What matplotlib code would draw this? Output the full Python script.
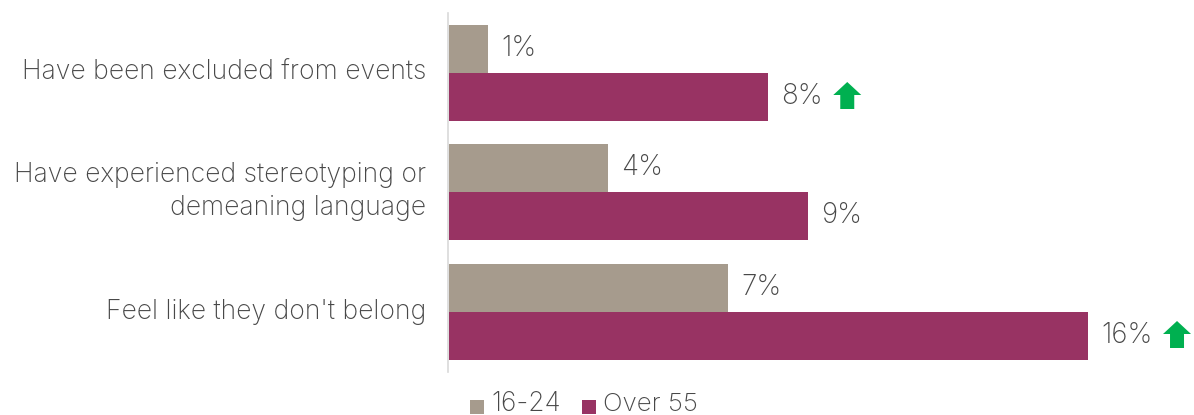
import matplotlib
matplotlib.use('Agg')
import matplotlib.pyplot as plt
from matplotlib.patches import FancyArrow, Rectangle

categories = ['Have been excluded from events',
              'Have experienced stereotyping or\ndemeaning language',
              "Feel like they don't belong"]
young = [1, 4, 7]
older = [8, 9, 16]
arrows_older = [True, False, True]
series_names = ['16-24', 'Over 55']

plt.rcParams['font.family'] = ['Inter', 'DejaVu Sans']
plt.rcParams['font.weight'] = 'light'

W, H = 1194, 415
fig = plt.figure(figsize=(W / 100, H / 100), dpi=100)
ax = fig.add_axes([0, 0, 1, 1])
ax.set_axis_off()

# pixel coordinates for the whole canvas, values are scaled to pixels below
ax.set_xlim(0, W)
ax.set_ylim(H, 0)

x0 = 448.5
per_pct = 39.97
grey = '#A69B8D'
plum = '#983363'
text_col = '#484848'

tops = [25, 144, 264]
bar_h = 48

ax.plot([447.5, 447.5], [13, 372], color='#D9D9D9', lw=1.2)

for i, cat in enumerate(categories):
    t = tops[i]
    ax.barh(t + bar_h / 2, young[i] * per_pct, height=bar_h, left=x0, color=grey)
    ax.barh(t + bar_h * 1.5, older[i] * per_pct, height=bar_h, left=x0, color=plum)
    ax.text(x0 + young[i] * per_pct + 13, t + bar_h / 2 - 1, f'{young[i]}%',
            fontsize=20, color=text_col, va='center')
    ax.text(x0 + older[i] * per_pct + 13, t + bar_h * 1.5 - 1, f'{older[i]}%',
            fontsize=20, color=text_col, va='center')
    ax.text(426, t + bar_h - 0.5, cat, fontsize=19.1, color=text_col, ha='right',
            va='center', linespacing=1.36)
    if arrows_older[i]:
        # the arrow sits just past the value label, so it depends on the label width
        gap = 79 if older[i] < 10 else 89
        arrow_x = x0 + older[i] * per_pct + gap
        ax.add_patch(FancyArrow(arrow_x, t + bar_h * 1.5 + 12, 0, -27, width=14,
                                head_width=28, head_length=13,
                                length_includes_head=True, color='#00B050', lw=0))

# legend drawn by hand so the swatches sit tight against the labels
ax.add_patch(Rectangle((470, 400), 14, 14, color=grey, lw=0))
ax.text(491, 404, series_names[0], fontsize=19, color=text_col, va='center')
ax.add_patch(Rectangle((582, 400), 14, 14, color=plum, lw=0))
ax.text(603, 404, series_names[1], fontsize=18.7, color=text_col, va='center')

fig.savefig('out.png', dpi=100)
